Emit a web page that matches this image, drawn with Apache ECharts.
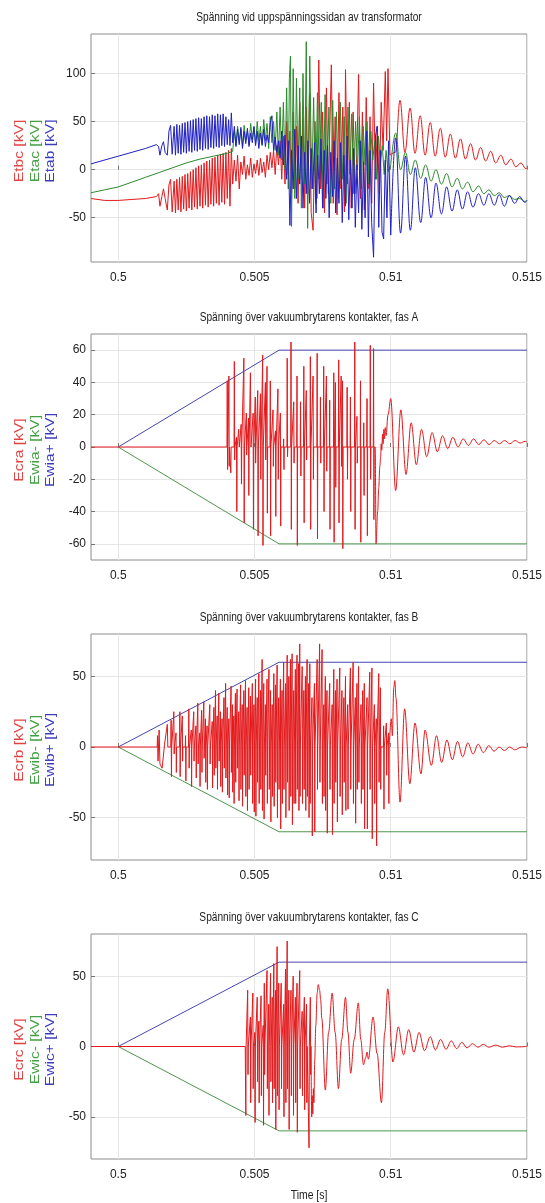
<!DOCTYPE html>
<html><head><meta charset="utf-8">
<script src="https://cdn.jsdelivr.net/npm/echarts@6/dist/echarts.min.js"></script>
<style>html,body{margin:0;padding:0;background:#fff}#c{width:545px;height:1203px}</style>
</head><body><div id="c"></div><script>
// ---------- tick labels ----------
const xTicks = [0.5, 0.505, 0.51, 0.515];
const yTicks1 = [-50, 0, 50, 100];
const yTicks2 = [-60, -40, -20, 0, 20, 40, 60];
const yTicks3 = [-50, 0, 50];
const yTicks4 = [-50, 0, 50];

// ---------- plot 1: Spänning vid uppspänningssidan ----------
const etab = [[0.499,6],[0.5,14],[0.501,22],[0.5014,26],[0.50148,24],[0.50153,15],[0.5016,25],[0.50166,29],[0.50172,18],[0.5018,15],[0.50186,40],[0.50192,46],[0.50198,16],
[0.50205,45],[0.5021,15],[0.50215,47],[0.5022,17],[0.50225,46],[0.5023,16],[0.50235,48],[0.5024,18],[0.50245,49],[0.5025,17],[0.50255,50],[0.5026,19],[0.50265,51],[0.5027,18],[0.50275,52],[0.5028,20],[0.50285,53],[0.5029,19],[0.50295,54],[0.503,21],[0.50305,53],[0.5031,20],[0.50315,55],[0.5032,22],[0.50325,56],[0.5033,21],[0.50335,55],[0.5034,23],[0.50345,57],[0.5035,22],[0.50355,56],[0.5036,24],[0.50365,58],[0.5037,23],[0.50375,57],[0.5038,25],[0.50385,58],[0.5039,24],[0.50395,55],[0.504,26],[0.50405,52],[0.5041,25],[0.50415,59],[0.5042,28],
[0.50426,45],[0.50432,24],[0.50438,42],[0.50444,26],[0.5045,44],[0.50456,22],[0.50462,40],[0.50468,27],[0.50474,43],[0.5048,24],[0.50486,38],[0.50492,28],[0.50498,45],[0.50504,25],[0.5051,40],[0.50516,22],[0.50522,38],[0.50528,26],[0.50534,42],[0.5054,24],[0.50546,36],[0.50552,28],[0.50558,48],[0.50564,56],[0.5057,20],[0.50576,34],[0.50582,18],[0.50588,30],[0.50594,12],[0.506,40],
[0.50606,5],[0.50612,36],[0.50618,-10],[0.50624,30],[0.5063,-58],[0.50636,20],[0.50642,-20],[0.50648,42],[0.50654,-30],[0.5066,25],[0.50666,-15],[0.50672,35],[0.50678,-40],[0.50684,18],[0.5069,-25],[0.50696,30],[0.50702,-35],[0.50708,22],[0.50714,-20],[0.5072,28],[0.50726,-45],[0.50732,15],[0.50738,-25],[0.50744,32],[0.5075,-40],[0.50756,20],[0.50762,-30],[0.50768,25],[0.50774,-50],[0.5078,18],[0.50786,-28],[0.50792,30],[0.50798,-45],[0.50804,12],[0.5081,-35],[0.50816,28],[0.50822,-55],[0.50828,15],[0.50834,-38],[0.5084,35],[0.50846,-52],[0.50852,10],[0.50858,-40],[0.50864,22],[0.5087,-60],[0.50876,5],[0.50882,-45],[0.50888,30],[0.50894,-62],[0.509,8],[0.50906,-50],[0.50912,40],[0.50918,-70],[0.50924,20],[0.5093,-55],[0.50937,-91],[0.50944,35],[0.5095,45],[0.50956,-60],[0.50962,20],[0.50968,-65],[0.50974,-72],[0.5098,10],[0.50986,-50],[0.50992,30],[0.51,-68]];
const etabDecay = [[0.51018,33],[0.51036,-66],[0.51054,14],[0.51072,-63],[0.5109,2],[0.5111,-55],[0.51128,-8],[0.51148,-50],[0.51166,-14],[0.51186,-46],[0.51205,-18],[0.51225,-43],[0.51244,-21],[0.51263,-41],[0.51282,-23],[0.51302,-39],[0.51322,-25],[0.51342,-37],[0.5136,-25],[0.5138,-37],[0.51398,-26],[0.51417,-38],[0.51435,-27],[0.51455,-35],[0.51473,-28],[0.51492,-34],[0.515,-32]];

const etbc = [[0.499,-30],[0.4995,-32],[0.5,-32],[0.5005,-31],[0.501,-30],[0.5014,-28],[0.50148,-25],[0.50153,-38],[0.5016,-28],[0.50166,-20],[0.50172,-30],[0.5018,-42],[0.50186,-16],[0.50192,-10],[0.50198,-44],
[0.50205,-12],[0.5021,-45],[0.50215,-10],[0.5022,-42],[0.50225,-8],[0.5023,-44],[0.50235,-7],[0.5024,-41],[0.50245,-5],[0.5025,-43],[0.50255,-4],[0.5026,-40],[0.50265,-2],[0.5027,-42],[0.50275,0],[0.5028,-39],[0.50285,2],[0.5029,-41],[0.50295,4],[0.503,-38],[0.50305,5],[0.5031,-40],[0.50315,7],[0.5032,-37],[0.50325,9],[0.5033,-39],[0.50335,10],[0.5034,-36],[0.50345,12],[0.5035,-38],[0.50355,13],[0.5036,-35],[0.50365,15],[0.5037,-37],[0.50375,16],[0.5038,-34],[0.50385,17],[0.5039,-36],[0.50395,18],[0.504,-30],[0.50405,20],[0.5041,-38],[0.50415,22],[0.5042,-15],
[0.50426,10],[0.50432,-12],[0.50438,15],[0.50444,-20],[0.5045,8],[0.50456,-5],[0.50462,14],[0.50468,-10],[0.50474,5],[0.5048,-6],[0.50486,12],[0.50492,-8],[0.50498,6],[0.50504,-4],[0.5051,10],[0.50516,-6],[0.50522,12],[0.50528,-3],[0.50534,8],[0.5054,-8],[0.50546,15],[0.50552,0],[0.50558,18],[0.50564,2],[0.5057,20],[0.50576,-5],[0.50582,25],[0.50588,5],[0.50594,30],[0.506,-10],
[0.50606,35],[0.50612,-15],[0.50618,50],[0.50624,-5],[0.5063,40],[0.50636,-30],[0.50642,60],[0.50648,-20],[0.50654,45],[0.5066,-35],[0.50666,70],[0.50672,-10],[0.50678,55],[0.50684,-40],[0.5069,65],[0.50696,-25],[0.50702,80],[0.50708,-45],[0.50715,-63],[0.50722,50],[0.50729,-30],[0.50736,114],[0.50743,-20],[0.5075,60],[0.50757,-45],[0.50764,85],[0.50771,-25],[0.50782,109],[0.50789,-35],[0.50796,55],[0.50803,-47],[0.5081,80],[0.50817,-20],[0.50824,65],[0.5083,-44],[0.50834,104],[0.50841,-15],[0.50848,70],[0.50855,-40],[0.50862,60],[0.50869,-25],[0.50876,20],[0.50882,99],[0.50889,-30],[0.50896,60],[0.50903,-42],[0.5091,75],[0.50917,-20],[0.50924,55],[0.5093,-35],[0.50937,90],[0.50944,-10],[0.50951,45],[0.50958,-25],[0.50965,70],[0.50972,20],[0.5098,102],[0.50985,30],[0.5099,105],[0.50997,15]];
const etbcDecay = [[0.51017,18],[0.51034,72],[0.51052,18],[0.51071,64],[0.51089,17],[0.51108,56],[0.51126,15],[0.51145,49],[0.51163,14],[0.51182,43],[0.512,13],[0.51219,37],[0.51237,12],[0.51256,32],[0.51274,11],[0.51293,27],[0.51311,10],[0.5133,23],[0.51348,9],[0.51367,19],[0.51385,7],[0.51404,15],[0.51422,5],[0.51441,11],[0.51459,3],[0.51478,7],[0.51496,1],[0.515,1]];

const etac = [[0.499,-24],[0.4995,-21],[0.5,-18],[0.5005,-13],[0.501,-8],[0.5015,-3],[0.502,2],[0.5025,7],[0.503,11],[0.5035,14],[0.504,17],[0.5042,19],
[0.50426,40],[0.50432,25],[0.50438,45],[0.50444,28],[0.5045,42],[0.50456,24],[0.50462,46],[0.50468,30],[0.50474,40],[0.5048,26],[0.50486,48],[0.50492,32],[0.50498,44],[0.50504,27],[0.5051,50],[0.50516,30],[0.50522,45],[0.50528,25],[0.50534,52],[0.5054,30],[0.50546,48],[0.50552,22],[0.50558,55],[0.50564,28],[0.5057,50],[0.50576,20],[0.50582,60],[0.50588,15],[0.50594,65],[0.506,10],
[0.50606,70],[0.50612,0],[0.50618,85],[0.50624,-20],[0.50628,95],[0.50632,118],[0.50636,-59],[0.50642,105],[0.50648,-30],[0.50654,95],[0.5066,-10],[0.50666,85],[0.50672,-40],[0.50678,100],[0.50684,-15],[0.5069,133],[0.50695,-61],[0.50703,118],[0.5071,-20],[0.50717,75],[0.50724,-35],[0.50731,80],[0.50738,-10],[0.50745,70],[0.50752,-40],[0.50759,78],[0.50766,-15],[0.50773,65],[0.5078,-35],[0.50787,72],[0.50794,-20],[0.50801,60],[0.50808,-30],[0.50815,70],[0.50822,-10],[0.50829,55],[0.50836,-35],[0.50843,65],[0.5085,-5],[0.50857,58],[0.50864,-25],[0.50871,50],[0.50878,0],[0.50885,55],[0.50892,-20],[0.50899,45],[0.50906,5],[0.50913,50],[0.5092,-15],[0.50927,40],[0.50934,10],[0.50941,30],[0.50948,-10],[0.50955,35],[0.50962,5],[0.50969,25],[0.50976,-5],[0.50983,20],[0.5099,-2],[0.51,5]];
const etacDecay = [[0.51018,38],[0.51036,0],[0.51054,18],[0.51072,-5],[0.5109,10],[0.5111,-9],[0.51128,5],[0.51148,-12],[0.51166,0],[0.51186,-15],[0.51205,-4],[0.51225,-18],[0.51244,-9],[0.51263,-20],[0.51282,-13],[0.51302,-23],[0.51322,-17],[0.51342,-25],[0.5136,-21],[0.5138,-27],[0.51398,-24],[0.51417,-29],[0.51435,-27],[0.51455,-31],[0.51473,-30],[0.51492,-33],[0.515,-32]];

// ---------- contact-gap withstand ramps (plots 2-4) ----------
const ewiPlus  = [[0.5,0],[0.5059,60],[0.515,60]];
const ewiMinus = [[0.5,0],[0.5059,-60],[0.515,-60]];
const crStart = 0.499; // red trace sits at zero from the left edge

// ---------- plot 2: fas A  (spikes: time, peak, trough) ----------
const ecraSpikes = [[0.504,41,-14],[0.50406,44,-12],[0.50412,0,-16],[0.50426,53,-8],[0.50434,6,-40],[0.50442,11,0],[0.50451,14,-23],[0.50461,55,-47],[0.5047,21,-5],[0.50478,18,-30],[0.50485,46,0],[0.50495,21,-51],[0.50503,31,-10],[0.50512,35,-55],[0.50522,33,-20],[0.5053,57,-61],[0.5054,40,-8],[0.50546,50,-41],[0.50558,41,-55],[0.50568,23,-12],[0.50577,10,-43],[0.50586,36,-20],[0.50595,21,-49],[0.50607,5,-14],[0.5062,55,-6],[0.50634,65,-51],[0.50644,28,-10],[0.50656,44,-61],[0.50669,28,-18],[0.50681,50,-47],[0.5069,35,-8],[0.50705,56,-51],[0.50715,44,-20],[0.5073,58,-57],[0.50742,31,-10],[0.50754,50,-40],[0.50764,44,-15],[0.50776,29,-51],[0.50791,46,-59],[0.50797,40,-25],[0.50809,54,-47],[0.50818,44,-12],[0.50823,41,-63],[0.5084,37,-20],[0.50852,31,-40],[0.50868,65,-51],[0.50876,19,-10],[0.50889,41,-59],[0.50901,15,-30],[0.50913,30,-55],[0.50925,63,-20],[0.50937,61,-45]];
const ecraTail = [[0.50943,0],[0.50946,-60],[0.50952,-40],[0.50956,-25],[0.5096,-12],[0.50963,-6],[0.50965,2],[0.50967,-2],[0.5097,8],[0.50972,2],[0.50975,11],[0.50977,5],[0.5098,12],[0.50983,7],[0.5099,20],[0.51,30],[0.51018,-27],[0.51037,23],[0.51056,-17],[0.51075,15],[0.51094,-11],[0.51113,11],[0.51132,-6],[0.51152,9],[0.51171,-3],[0.5119,7],[0.51209,-1],[0.51228,6],[0.51247,0],[0.51266,5],[0.51285,1],[0.51304,5],[0.51323,1.5],[0.51342,4.5],[0.51361,1.5],[0.5138,4],[0.51399,2],[0.51418,4],[0.51437,2],[0.51456,4],[0.51475,2.5],[0.51494,3.5],[0.515,3]];

// ---------- plot 3: fas B ----------
const ecrbHead = [[0.50143,0],[0.50144,8],[0.50146,-10],[0.5015,12],[0.50153,-12],[0.50161,-15],[0.5017,2],[0.5018,16],[0.50182,0]];
const ecrbSpikes = [[0.50194,19,-21],[0.50204,25,-5],[0.50212,10,-18],[0.50226,25,-21],[0.50235,22,-10],[0.50247,8,-24],[0.50259,27,-15],[0.50268,12,-28],[0.50277,25,-10],[0.50285,15,-22],[0.50292,31,-12],[0.50299,10,-28],[0.50306,26,-18],[0.50314,32,-8],[0.5032,20,-25],[0.50326,15,-30],[0.50336,30,-12],[0.50345,18,-29],[0.50351,28,-20],[0.50357,40,-15],[0.50363,22,-30],[0.50369,38,-10],[0.50375,25,-28],[0.50381,20,-32],[0.50388,35,-15],[0.50394,45,-22],[0.504,28,-34],[0.50406,20,-36],[0.50414,43,-18],[0.50419,30,-32],[0.50424,22,-40],[0.5043,38,-25],[0.50436,41,-15],[0.50442,25,-38],[0.50449,44,-30],[0.50455,30,-42],[0.50461,40,-20],[0.50467,47,-35],[0.50473,28,-45],[0.50479,42,-30],[0.50485,36,-20],[0.50492,45,-40],[0.50498,30,-46],[0.50504,48,-49],[0.5051,35,-25],[0.50516,52,-40],[0.50522,40,-30],[0.50528,62,-45],[0.50534,45,-51],[0.5054,30,-20],[0.50546,48,-40],[0.50553,55,-30],[0.50559,40,-53],[0.50565,30,-35],[0.50571,52,-42],[0.50577,44,-25],[0.50583,58,-50],[0.50589,35,-30],[0.50595,48,-58],[0.50601,40,-40],[0.50607,60,-30],[0.50614,45,-50],[0.5062,65,-25],[0.50626,50,-45],[0.50632,62,-35],[0.50638,66,-55],[0.50644,40,-40],[0.5065,55,-40],[0.50656,65,-30],[0.50662,59,-45],[0.50666,73,-35],[0.50675,57,-40],[0.50681,40,-30],[0.50687,50,-45],[0.50693,62,-35],[0.50699,45,-50],[0.50703,59,-40],[0.50711,35,-63],[0.5072,45,-60],[0.5073,62,-30],[0.50739,73,-25],[0.50748,69,-40],[0.50754,30,-35],[0.5076,50,-45],[0.50766,40,-61],[0.50776,45,-30],[0.50785,30,-62],[0.50791,55,-40],[0.50797,40,-25],[0.50803,48,-53],[0.50813,56,-35],[0.50821,40,-48],[0.50828,35,-25],[0.50834,50,-45],[0.50842,30,-44],[0.50852,56,-30],[0.50862,60,-40],[0.5087,35,-54],[0.50876,45,-30],[0.50882,57,-25],[0.50891,30,-40],[0.50897,40,-30],[0.50903,45,-58],[0.50913,35,-58],[0.50923,53,-30],[0.50931,56,-65],[0.5094,30,-40],[0.50947,20,-70],[0.50956,52,-25],[0.50962,42,-30],[0.50974,15,-44],[0.50984,17,-20],[0.50992,10,-40]];
const ecrbTail = [[0.50996,0],[0.51002,20],[0.51006,8],[0.51011,42],[0.51015,47],[0.51019,35],[0.51034,-39],[0.51051,27],[0.5107,-26],[0.51089,17],[0.51111,-19],[0.51126,12],[0.51149,-13],[0.51168,8],[0.51187,-11],[0.51206,5],[0.51226,-9],[0.51245,4],[0.51264,-7],[0.51283,3],[0.51302,-5],[0.51321,2],[0.5134,-4],[0.5136,1],[0.51379,-3],[0.51398,0],[0.51417,-2.5],[0.51436,0],[0.51455,-2],[0.51481,0],[0.515,-0.5]];

// ---------- plot 4: fas C ----------
const ecrcSpikes = [[0.50467,0,-49],[0.50475,40,-20],[0.50485,21,-40],[0.50494,38,-30],[0.50501,10,-54],[0.5051,35,-25],[0.50516,18,-40],[0.50524,36,-35],[0.50532,15,-56],[0.50536,45,-20],[0.50546,54,-30],[0.50552,30,-49],[0.50559,52,-25],[0.50565,35,-40],[0.50571,59,-30],[0.50577,40,-59],[0.50583,71,-35],[0.50589,45,-45],[0.50598,45,-30],[0.50607,30,-50],[0.50614,55,-40],[0.5062,75,-30],[0.50626,40,-59],[0.50634,40,-35],[0.50642,50,-49],[0.5065,35,-40],[0.50656,45,-61],[0.50666,54,-30],[0.50675,25,-35],[0.50683,35,-45],[0.50691,30,-40],[0.50699,0,-72],[0.50705,35,-20]];
const ecrcTail = [[0.50709,0],[0.5071,-50],[0.50712,-35],[0.50714,-48],[0.50716,-30],[0.50718,-40],[0.50721,-10],[0.50725,15],[0.5073,38],[0.50734,44],[0.50739,40],[0.50743,33],[0.50747,20],[0.5076,-31],[0.50772,10],[0.50785,38],[0.50796,10],[0.50808,-30],[0.5082,5],[0.50834,35],[0.50843,10],[0.50853,-19],[0.50866,5],[0.50881,31],[0.5089,5],[0.509,-13],[0.50908,-8],[0.50913,-4],[0.50918,-9],[0.50935,21],[0.5095,-5],[0.50966,-40],[0.50978,10],[0.50989,41],[0.51008,-11],[0.51028,14],[0.51047,-6],[0.51066,12],[0.51085,-4],[0.51104,10],[0.51124,-3],[0.51145,7],[0.51164,-2.5],[0.51183,5],[0.51203,-2],[0.51222,4],[0.51242,-1.5],[0.51261,3],[0.5128,-1],[0.513,2],[0.5132,-0.5],[0.5134,1.5],[0.5136,-0.5],[0.51385,1],[0.5141,-0.5],[0.51435,0.5],[0.5146,-0.3],[0.515,0]];

const titles = ['Spänning vid uppspänningssidan av transformator',
  'Spänning över vakuumbrytarens kontakter, fas A',
  'Spänning över vakuumbrytarens kontakter, fas B',
  'Spänning över vakuumbrytarens kontakter, fas C'];
const yNames = [['Etbc [kV]','Etac [kV]','Etab [kV]'],['Ecra [kV]','Ewia- [kV]','Ewia+ [kV]'],
  ['Ecrb [kV]','Ewib- [kV]','Ewib+ [kV]'],['Ecrc [kV]','Ewic- [kV]','Ewic+ [kV]']];

// ---------- build ----------
function spikeLine(start, head, spikes) {
  const out = [[start, 0]].concat(head);
  for (const [t, hi, lo] of spikes) {
    out.push([t - 0.00001, 0]);
    if (hi) out.push([t, hi]);
    if (lo) out.push([t + 0.000012, lo]);
    out.push([t + 0.000022, 0]);
  }
  return out;
}
const joinTail = (main, tail) => [main[main.length - 1]].concat(tail);
const ecra = spikeLine(crStart, [], ecraSpikes);
const ecrb = spikeLine(crStart, ecrbHead, ecrbSpikes);
const ecrc = spikeLine(crStart, [], ecrcSpikes);

const RED = '#e3191c', GREEN = '#2b8a2b', BLUE = '#2020c4';
const GREEN2 = '#4d974d', BLUE2 = '#4646b2';
const LRED = '#e24444', LGREEN = '#44a044', LBLUE = '#3c3cc0';
const FONT = '"Liberation Sans",Arial,sans-serif';

const grids = [
  {top: 34, height: 228, ymin: -96, ymax: 141, yt: yTicks1},
  {top: 334, height: 226, ymin: -70, ymax: 70, yt: yTicks2},
  {top: 634, height: 226, ymin: -80, ymax: 80, yt: yTicks3},
  {top: 934, height: 225, ymin: -80, ymax: 80, yt: yTicks4}
];
const L = 91, W = 436;

const option = {
  animation: false,
  backgroundColor: '#fff',
  grid: grids.map(g => ({left: L, top: g.top, width: W, height: g.height, show: true,
    borderColor: '#8c8c8c', borderWidth: 1, backgroundColor: '#fff', containLabel: false})),
  xAxis: grids.map((g, i) => ({type: 'value', gridIndex: i, min: 0.499, max: 0.515,
    axisLine: {show: false},
    axisTick: {show: true, inside: true, length: 4, customValues: xTicks, lineStyle: {color: '#777'}},
    axisLabel: {customValues: xTicks, fontFamily: FONT, fontSize: 12, color: '#222', margin: 10,
      formatter: v => String(+v.toFixed(3))},
    splitLine: {show: true, lineStyle: {color: '#e6e6e6', width: 1}}})),
  yAxis: grids.map((g, i) => ({type: 'value', gridIndex: i, min: g.ymin, max: g.ymax,
    axisLine: {show: false},
    axisTick: {show: true, inside: true, length: 4, customValues: g.yt, lineStyle: {color: '#777'}},
    axisLabel: {customValues: g.yt, fontFamily: FONT, fontSize: 12, color: '#222', margin: 5},
    splitLine: {show: true, lineStyle: {color: '#e6e6e6', width: 1}}})),
  series: [],
  graphic: []
};

function line(i, data, color, z, smooth) {
  option.series.push({type: 'line', xAxisIndex: i, yAxisIndex: i, data, showSymbol: false,
    symbol: 'none', silent: true, z, smooth: smooth || false, smoothMonotone: 'x',
    lineStyle: {color, width: 1}, itemStyle: {color}});
}
line(0, etbc, RED, 2); line(0, joinTail(etbc, etbcDecay), RED, 2, 0.4);
line(0, etac, GREEN, 3); line(0, joinTail(etac, etacDecay), GREEN, 3, 0.4);
line(0, etab, BLUE, 4); line(0, joinTail(etab, etabDecay), BLUE, 4, 0.4);
[[ecra, ecraTail], [ecrb, ecrbTail], [ecrc, ecrcTail]].forEach(([m, t], k) => {
  const i = k + 1;
  line(i, ewiMinus, GREEN2, 2); line(i, ewiPlus, BLUE2, 2);
  line(i, m, RED, 3); line(i, joinTail(m, t), RED, 3, 0.35);
});

grids.forEach((g, i) => {
  option.graphic.push({type: 'text', x: L + W / 2, y: g.top - 17, scaleX: 0.78,
    style: {text: titles[i], fill: '#222', font: '13px ' + FONT, textAlign: 'center', textVerticalAlign: 'middle'}});
  const cy = g.top + g.height / 2 + 3;
  [[19, LRED], [35, LGREEN], [50.5, LBLUE]].forEach(([x, c], k) => {
    option.graphic.push({type: 'text', x, y: cy, rotation: Math.PI / 2, scaleX: 1.2,
      style: {text: yNames[i][k], fill: c, font: '13px ' + FONT,
        textAlign: 'center', textVerticalAlign: 'middle'}});
  });
});
option.graphic.push({type: 'text', x: L + W / 2, y: 1195, scaleX: 0.8, style: {text: 'Time [s]', fill: '#222',
  font: '13px ' + FONT, textAlign: 'center', textVerticalAlign: 'middle'}});

const chart = echarts.init(document.getElementById('c'), null, {renderer: 'canvas'});
chart.setOption(option);
</script></body></html>
